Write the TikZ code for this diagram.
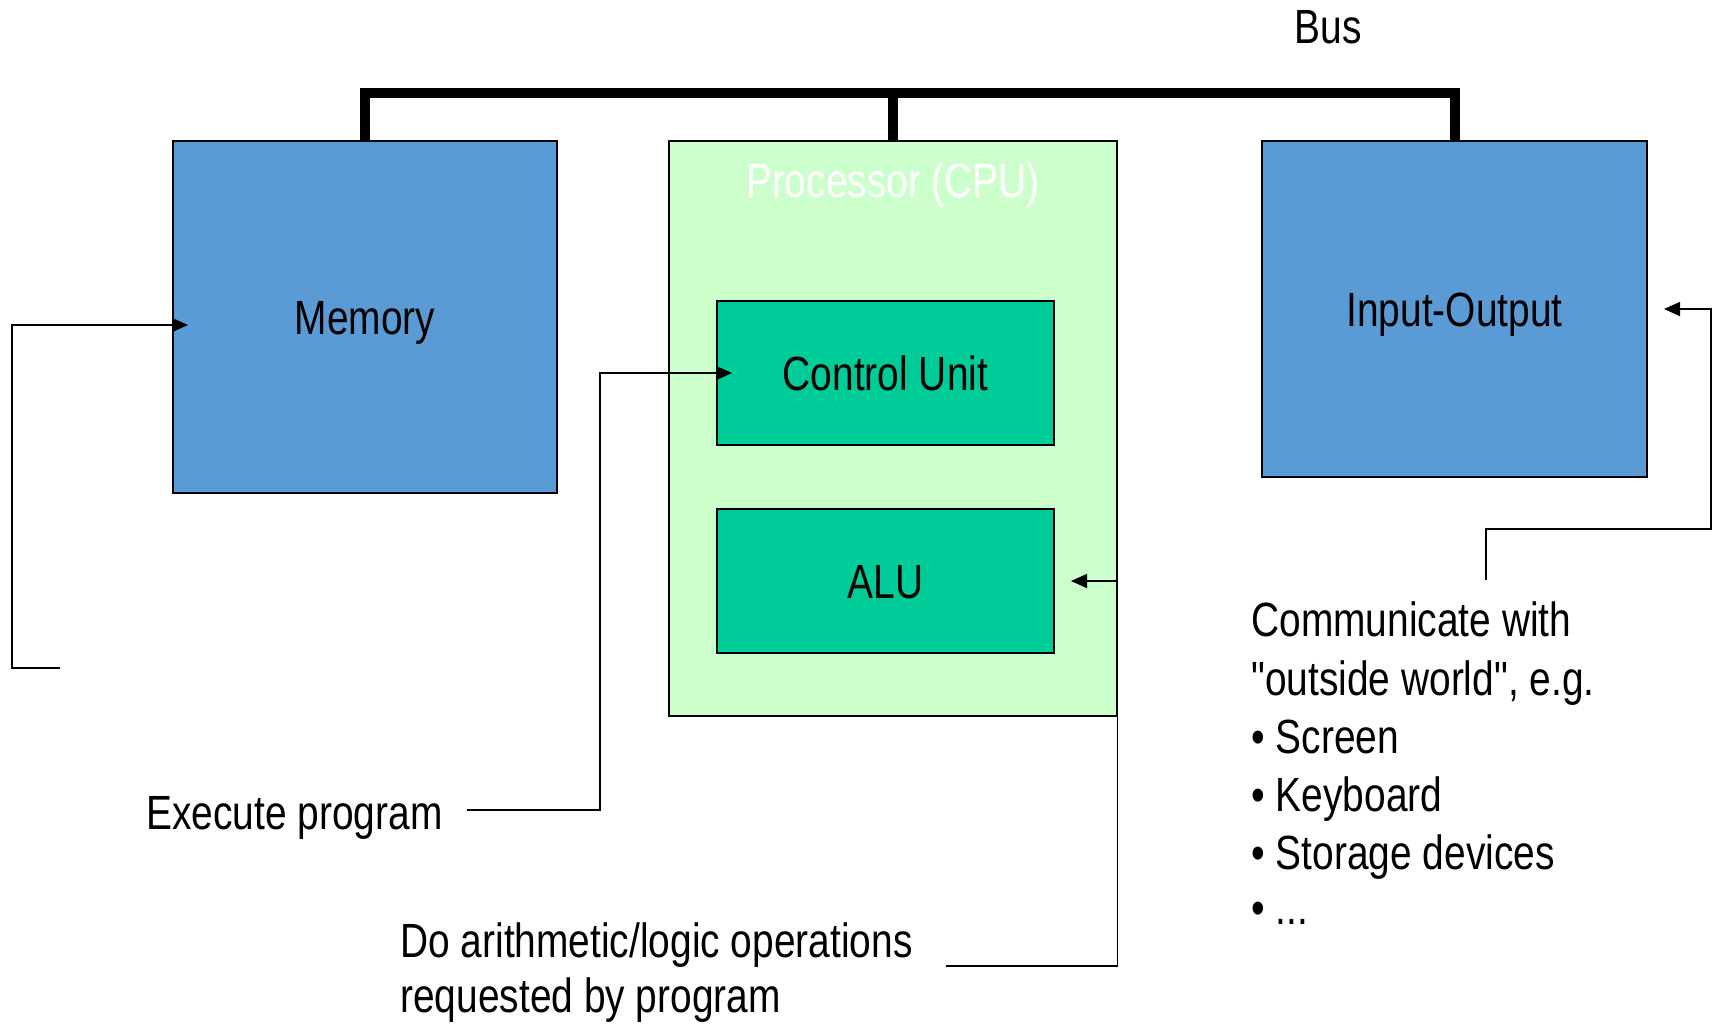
\documentclass[tikz,border=0pt]{standalone}
\usepackage{fontspec}
\newfontfamily\labfont{Liberation Sans}[FakeStretch=0.81]
\usetikzlibrary{arrows.meta}
\definecolor{memblue}{HTML}{5B9BD5}
\definecolor{cpugreen}{HTML}{CCFFCC}
\definecolor{unitgreen}{HTML}{00CC99}

\begin{document}
\begin{tikzpicture}[x=0.5pt, y=-0.5pt,
  lab/.style={font=\fontsize{24}{28}\selectfont\labfont, inner sep=0pt},
  tag/.style={lab, anchor=base west},
  unit/.style={lab, draw=black, line width=1pt, text height=17pt, text depth=0pt},
  conn/.style={line width=0.8pt, -{Triangle[length=8pt,width=7pt]}},
  bus/.style={line width=5pt, line join=miter}]

\useasboundingbox (0,0) rectangle (1716,1025);

% functional blocks
\node[unit, fill=memblue, minimum width=192pt, minimum height=176pt] (mem) at (365,317) {Memory};
\node[unit, fill=cpugreen, minimum width=224pt, minimum height=287.5pt] (cpu) at (893,428.5) {};
\node[lab, text=white, anchor=base] (cputitle) at (893,197) {Processor (CPU)};
\node[unit, fill=unitgreen, minimum width=168.5pt, minimum height=72pt] (cu) at (885.5,373) {Control Unit};
\node[unit, fill=unitgreen, minimum width=168.5pt, minimum height=72pt] (alu) at (885.5,581) {ALU};
\node[unit, fill=memblue, minimum width=192.5pt, minimum height=168pt] (io) at (1454.5,309) {Input-Output};

% system bus
\coordinate (busline) at (0,93);
\node[lab, anchor=base] (buslabel) at (1328,43) {Bus};
\draw[bus] (mem.north) -- (mem.north |- busline) -- (io.north |- busline) -- (io.north);
\draw[bus] (cpu.north) -- (cpu.north |- busline);

% memory connector
\coordinate (memfree) at (60,668);
\coordinate (membend) at (12,325);
\draw[conn] (memfree) -| (membend) -- ([xshift=8pt]mem.west |- membend);

% control unit annotation
\node[tag] (exe) at (146,829) {Execute program};
\coordinate (exefree) at (467,810);
\coordinate (exebend) at (600,810);
\draw[conn] (exefree) -- (exebend) |- ([xshift=8pt]cu.west);

% ALU annotation
\node[tag] (aluop1) at (400,957) {Do arithmetic/logic operations};
\node[tag] (aluop2) at (400,1012) {requested by program};
\coordinate (alufree) at (946,966);
\coordinate (alubend) at (1117.5,966);
\draw[conn] (alufree) -- (alubend) |- ([xshift=8pt]alu.east);

% input-output annotation
\coordinate (iofree) at (1486,580);
\coordinate (iobend) at (1711,529);
\draw[conn] (iofree) |- (iobend) |- ([xshift=8pt]io.east);
\node[tag] (comm1) at (1251,636) {Communicate with};
\node[tag] (comm2) at (1251,695) {"outside world", e.g.};
\node[tag] (comm3) at (1251,753.5) {• Screen};
\node[tag] (comm4) at (1251,811) {• Keyboard};
\node[tag] (comm5) at (1251,869) {• Storage devices};
\node[tag] (comm6) at (1251,924) {• ...};
\end{tikzpicture}
\end{document}
